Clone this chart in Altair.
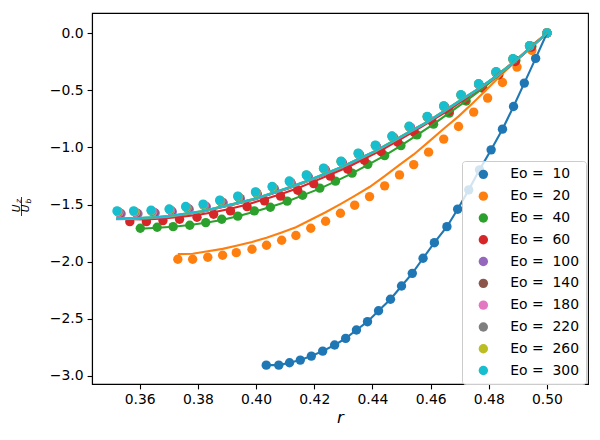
import altair as alt
import pandas as pd

EO = [10, 20, 40, 60, 100, 140, 180, 220, 260, 300]
COLORS = ["#1f77b4", "#ff7f0e", "#2ca02c", "#d62728", "#9467bd",
          "#8c564b", "#e377c2", "#7f7f7f", "#bcbd22", "#17becf"]

# ---- Eo = 10
r10 = [0.4035, 0.4078, 0.4115, 0.4152, 0.4190, 0.4229, 0.4270, 0.4308, 0.4345, 0.4383, 0.4421, 0.4462, 0.4500,
       0.4537, 0.4574, 0.4613, 0.4656, 0.4693, 0.4731, 0.4768, 0.4808, 0.4847, 0.4885, 0.4922, 0.4961, 0.5000]
u10 = [-2.905, -2.905, -2.884, -2.861, -2.826, -2.782, -2.729, -2.671, -2.598, -2.525, -2.429, -2.329, -2.213,
       -2.102, -1.970, -1.834, -1.694, -1.541, -1.372, -1.197, -1.022, -0.841, -0.643, -0.438, -0.222, 0.000]
f10 = [-2.905, -2.905, -2.884, -2.861, -2.826, -2.782, -2.729, -2.671, -2.598, -2.525, -2.429, -2.329, -2.213,
       -2.102, -1.970, -1.834, -1.694, -1.541, -1.372, -1.197, -1.022, -0.841, -0.643, -0.438, -0.222, 0.000]

# ---- Eo = 20
r20 = [0.3731, 0.3782, 0.3834, 0.3885, 0.3932, 0.3986, 0.4036, 0.4088, 0.4137, 0.4188, 0.4239, 0.4290, 0.4339,
       0.4390, 0.4442, 0.4493, 0.4542, 0.4593, 0.4645, 0.4696, 0.4748, 0.4796, 0.4847, 0.4897, 0.4948, 0.5000]
u20 = [-1.979, -1.979, -1.961, -1.944, -1.921, -1.891, -1.856, -1.813, -1.771, -1.708, -1.646, -1.576, -1.506,
       -1.431, -1.337, -1.241, -1.151, -1.042, -0.928, -0.818, -0.692, -0.569, -0.433, -0.298, -0.152, 0.000]
f20 = [-1.934, -1.931, -1.909, -1.888, -1.861, -1.828, -1.790, -1.744, -1.699, -1.633, -1.568, -1.496, -1.424,
       -1.347, -1.251, -1.153, -1.062, -0.952, -0.838, -0.729, -0.605, -0.486, -0.357, -0.234, -0.108, 0.000]

# ---- Eo = 40
r40 = [0.3602, 0.3660, 0.3715, 0.3772, 0.3827, 0.3882, 0.3937, 0.3994, 0.4049, 0.4107, 0.4160, 0.4219, 0.4273,
       0.4330, 0.4384, 0.4442, 0.4498, 0.4553, 0.4610, 0.4664, 0.4722, 0.4779, 0.4834, 0.4893, 0.4948, 0.5000]
u40 = [-1.708, -1.699, -1.694, -1.681, -1.658, -1.629, -1.602, -1.556, -1.524, -1.470, -1.419, -1.357, -1.296,
       -1.226, -1.149, -1.072, -0.985, -0.891, -0.797, -0.701, -0.595, -0.482, -0.365, -0.240, -0.117, 0.000]
f40 = [-1.712, -1.704, -1.694, -1.680, -1.660, -1.635, -1.603, -1.563, -1.522, -1.473, -1.420, -1.361, -1.298,
       -1.228, -1.153, -1.072, -0.985, -0.893, -0.797, -0.698, -0.594, -0.484, -0.368, -0.245, -0.122, 0.000]

# ---- Eo = 60
r60 = [0.3566, 0.3623, 0.3680, 0.3737, 0.3797, 0.3854, 0.3912, 0.3969, 0.4029, 0.4084, 0.4143, 0.4198, 0.4255,
       0.4315, 0.4372, 0.4430, 0.4487, 0.4544, 0.4605, 0.4664, 0.4719, 0.4779, 0.4834, 0.4891, 0.4946, 0.5000]
u60 = [-1.650, -1.650, -1.641, -1.629, -1.611, -1.585, -1.556, -1.518, -1.468, -1.427, -1.375, -1.317, -1.252,
       -1.191, -1.112, -1.039, -0.956, -0.870, -0.774, -0.683, -0.584, -0.479, -0.365, -0.249, -0.123, 0.000]
f60 = [-1.628, -1.630, -1.622, -1.610, -1.592, -1.567, -1.538, -1.500, -1.455, -1.410, -1.358, -1.300, -1.238,
       -1.174, -1.100, -1.026, -0.944, -0.858, -0.765, -0.672, -0.573, -0.469, -0.357, -0.242, -0.120, 0.000]

# ---- Eo = 100
r100 = [0.3536, 0.3594, 0.3653, 0.3712, 0.3770, 0.3829, 0.3887, 0.3946, 0.4004, 0.4063, 0.4121, 0.4180, 0.4239,
        0.4297, 0.4356, 0.4414, 0.4473, 0.4531, 0.4590, 0.4649, 0.4707, 0.4766, 0.4824, 0.4883, 0.4941, 0.5000]
u100 = [-1.581, -1.581, -1.575, -1.563, -1.542, -1.520, -1.485, -1.449, -1.411, -1.363, -1.314, -1.259, -1.199,
        -1.137, -1.066, -0.995, -0.914, -0.828, -0.741, -0.647, -0.549, -0.452, -0.346, -0.231, -0.115, 0.000]

# ---- Eo = 140
r140 = [0.3532, 0.3589, 0.3649, 0.3709, 0.3766, 0.3825, 0.3882, 0.3943, 0.4003, 0.4060, 0.4119, 0.4177, 0.4236,
        0.4296, 0.4354, 0.4413, 0.4470, 0.4529, 0.4590, 0.4647, 0.4706, 0.4766, 0.4826, 0.4884, 0.4941, 0.5000]
u140 = [-1.575, -1.575, -1.569, -1.557, -1.536, -1.514, -1.479, -1.443, -1.405, -1.358, -1.309, -1.254, -1.195,
        -1.133, -1.062, -0.991, -0.911, -0.825, -0.738, -0.645, -0.547, -0.450, -0.344, -0.229, -0.114, 0.000]

# ---- Eo = 180
r180 = [0.3529, 0.3586, 0.3645, 0.3706, 0.3763, 0.3822, 0.3879, 0.3940, 0.4001, 0.4058, 0.4117, 0.4175, 0.4234,
        0.4294, 0.4353, 0.4412, 0.4469, 0.4528, 0.4589, 0.4646, 0.4705, 0.4765, 0.4825, 0.4883, 0.4940, 0.5000]
u180 = [-1.570, -1.570, -1.564, -1.552, -1.531, -1.509, -1.474, -1.438, -1.400, -1.353, -1.305, -1.250, -1.191,
        -1.129, -1.058, -0.988, -0.908, -0.822, -0.735, -0.642, -0.545, -0.448, -0.342, -0.228, -0.113, 0.000]

# ---- Eo = 220
r220 = [0.3526, 0.3583, 0.3642, 0.3704, 0.3761, 0.3820, 0.3877, 0.3939, 0.4000, 0.4057, 0.4116, 0.4174, 0.4233,
        0.4293, 0.4352, 0.4411, 0.4468, 0.4527, 0.4589, 0.4646, 0.4705, 0.4765, 0.4825, 0.4883, 0.4940, 0.5000]
u220 = [-1.565, -1.565, -1.559, -1.547, -1.526, -1.505, -1.469, -1.434, -1.396, -1.349, -1.301, -1.246, -1.187,
        -1.126, -1.055, -0.985, -0.905, -0.819, -0.733, -0.640, -0.543, -0.446, -0.341, -0.227, -0.112, 0.000]

# ---- Eo = 260
r260 = [0.3524, 0.3581, 0.3640, 0.3702, 0.3759, 0.3819, 0.3876, 0.3938, 0.3999, 0.4056, 0.4115, 0.4173, 0.4232,
        0.4292, 0.4351, 0.4410, 0.4467, 0.4526, 0.4588, 0.4645, 0.4704, 0.4765, 0.4825, 0.4883, 0.4940, 0.5000]
u260 = [-1.560, -1.560, -1.554, -1.543, -1.522, -1.501, -1.465, -1.430, -1.393, -1.346, -1.298, -1.243, -1.184,
        -1.123, -1.053, -0.983, -0.903, -0.817, -0.731, -0.638, -0.541, -0.445, -0.340, -0.226, -0.111, 0.000]

# ---- Eo = 300
r300 = [0.3522, 0.3579, 0.3639, 0.3701, 0.3758, 0.3818, 0.3875, 0.3937, 0.3998, 0.4055, 0.4114, 0.4173, 0.4232,
        0.4292, 0.4351, 0.4410, 0.4467, 0.4526, 0.4588, 0.4645, 0.4704, 0.4765, 0.4825, 0.4883, 0.4940, 0.5000]
u300 = [-1.556, -1.556, -1.550, -1.539, -1.518, -1.497, -1.462, -1.427, -1.390, -1.343, -1.295, -1.241, -1.182,
        -1.121, -1.051, -0.981, -0.901, -0.816, -0.730, -0.637, -0.540, -0.444, -0.339, -0.225, -0.111, 0.000]

# fitted curves for Eo >= 100, evaluated on a common r grid
r_fit_hi = [0.3519, 0.3579, 0.3639, 0.3701, 0.3758, 0.3818, 0.3875, 0.3937, 0.3998, 0.4055, 0.4114, 0.4173, 0.4232,
            0.4292, 0.4351, 0.4410, 0.4467, 0.4526, 0.4588, 0.4645, 0.4704, 0.4765, 0.4825, 0.4883, 0.4940, 0.5000]
f100 = [-1.628, -1.627, -1.620, -1.608, -1.586, -1.564, -1.528, -1.492, -1.454, -1.406, -1.357, -1.302, -1.242,
        -1.180, -1.109, -1.038, -0.957, -0.871, -0.784, -0.690, -0.591, -0.492, -0.384, -0.264, -0.139, 0.000]
f140 = [-1.626, -1.625, -1.618, -1.606, -1.584, -1.562, -1.526, -1.490, -1.452, -1.404, -1.355, -1.300, -1.240,
        -1.178, -1.107, -1.036, -0.955, -0.869, -0.782, -0.688, -0.589, -0.490, -0.382, -0.262, -0.138, 0.000]
f180 = [-1.625, -1.624, -1.617, -1.605, -1.583, -1.561, -1.525, -1.489, -1.451, -1.403, -1.354, -1.299, -1.239,
        -1.177, -1.106, -1.035, -0.954, -0.868, -0.781, -0.687, -0.588, -0.489, -0.381, -0.262, -0.138, 0.000]
f220 = [-1.623, -1.622, -1.615, -1.603, -1.581, -1.559, -1.523, -1.487, -1.449, -1.401, -1.352, -1.297, -1.237,
        -1.175, -1.104, -1.033, -0.952, -0.866, -0.779, -0.685, -0.586, -0.487, -0.379, -0.260, -0.137, 0.000]
f260 = [-1.622, -1.621, -1.614, -1.602, -1.580, -1.558, -1.522, -1.486, -1.448, -1.400, -1.351, -1.296, -1.236,
        -1.174, -1.103, -1.032, -0.951, -0.865, -0.778, -0.684, -0.585, -0.487, -0.379, -0.260, -0.136, 0.000]
f300 = [-1.621, -1.620, -1.613, -1.601, -1.579, -1.557, -1.521, -1.485, -1.447, -1.399, -1.350, -1.295, -1.235,
        -1.173, -1.102, -1.031, -0.950, -0.864, -0.777, -0.683, -0.584, -0.486, -0.378, -0.259, -0.136, 0.000]

R = [r10, r20, r40, r60, r100, r140, r180, r220, r260, r300]
U = [u10, u20, u40, u60, u100, u140, u180, u220, u260, u300]
RF = [r10, r20, r40, r60, r_fit_hi, r_fit_hi, r_fit_hi, r_fit_hi, r_fit_hi, r_fit_hi]
F = [f10, f20, f40, f60, f100, f140, f180, f220, f260, f300]

X_TICKS = [0.36, 0.38, 0.40, 0.42, 0.44, 0.46, 0.48, 0.50]
Y_TICKS = [-3.0, -2.5, -2.0, -1.5, -1.0, -0.5, 0.0]


def label(eo):
    return "Eo = \u00a0" + str(eo)


LABELS = [label(e) for e in EO]

xs = alt.Scale(domain=[0.3436, 0.5141], nice=False, zero=False)
ys = alt.Scale(domain=[-3.07, 0.175], nice=False, zero=False)
xaxis = alt.Axis(values=X_TICKS, format=".2f", title="r", titleFontStyle="italic",
                 titleFont="DejaVu Sans", titleFontSize=16.5, titleFontWeight="normal",
                 titleColor="black", titlePadding=3)
yaxis = alt.Axis(values=Y_TICKS, format=".1f", title="")

X = alt.X("r:Q", scale=xs, axis=xaxis)
Y = alt.Y("u:Q", scale=ys, axis=yaxis)

pts_rows = []
for e, rr, uu in zip(EO, R, U):
    for a, b in zip(rr, uu):
        pts_rows.append({"r": a, "u": b, "label": label(e)})
pts = pd.DataFrame(pts_rows)

points = alt.Chart(pts).mark_circle(size=88, opacity=1).encode(
    x=X, y=Y,
    color=alt.Color("label:N", scale=alt.Scale(domain=LABELS, range=COLORS),
                    legend=alt.Legend(title=None, orient="none", legendX=370, legendY=148,
                                      padding=6.4, fillColor="rgba(255,255,255,0.8)",
                                      strokeColor="#cccccc", cornerRadius=3,
                                      labelFont="DejaVu Sans", labelFontSize=13.9,
                                      labelColor="black", symbolSize=88, symbolType="circle",
                                      symbolStrokeWidth=0, symbolOpacity=1, symbolOffset=8,
                                      labelOffset=20, rowPadding=6.8, labelLimit=200)),
)

lines = []
for e, c, rr, ff in zip(EO, COLORS, RF, F):
    d = pd.DataFrame({"r": rr, "u": ff})
    lines.append(alt.Chart(d).mark_line(color=c, strokeWidth=2.1).encode(x=X, y=Y, order="r:Q"))

one = pd.DataFrame({"k": [0]})
tfont = dict(angle=270, align="center", baseline="middle", font="DejaVu Sans",
             fontStyle="italic", color="black")
title_parts = [
    alt.Chart(one).mark_text(text="U", fontSize=10.5, **tfont).encode(x=alt.value(-75.2), y=alt.value(195.5)),
    alt.Chart(one).mark_text(text="z", fontSize=7.5, **tfont).encode(x=alt.value(-72.8), y=alt.value(188.0)),
    alt.Chart(one).mark_text(text="U", fontSize=10.5, **tfont).encode(x=alt.value(-65.6), y=alt.value(195.5)),
    alt.Chart(one).mark_text(text="b", fontSize=7.5, **tfont).encode(x=alt.value(-63.0), y=alt.value(188.0)),
    alt.Chart(one).mark_rule(color="black", strokeWidth=0.8).encode(
        x=alt.value(-70.5), y=alt.value(184), y2=alt.value(203)),
]

chart = alt.layer(points, *lines, *title_parts).properties(
    width=496, height=371, autosize="none",
    padding={"left": 84, "top": 5, "right": 4, "bottom": 47},
).configure_view(stroke="black", strokeWidth=1.1).configure_axis(
    labelFont="DejaVu Sans", labelFontSize=13.9, labelColor="black",
    tickColor="black", tickSize=4.9, tickWidth=1.1, domainColor="black",
    domainWidth=1.1, grid=False, labelPadding=4,
)

chart.save("out.html", embed_options={"renderer": "svg", "actions": False})
